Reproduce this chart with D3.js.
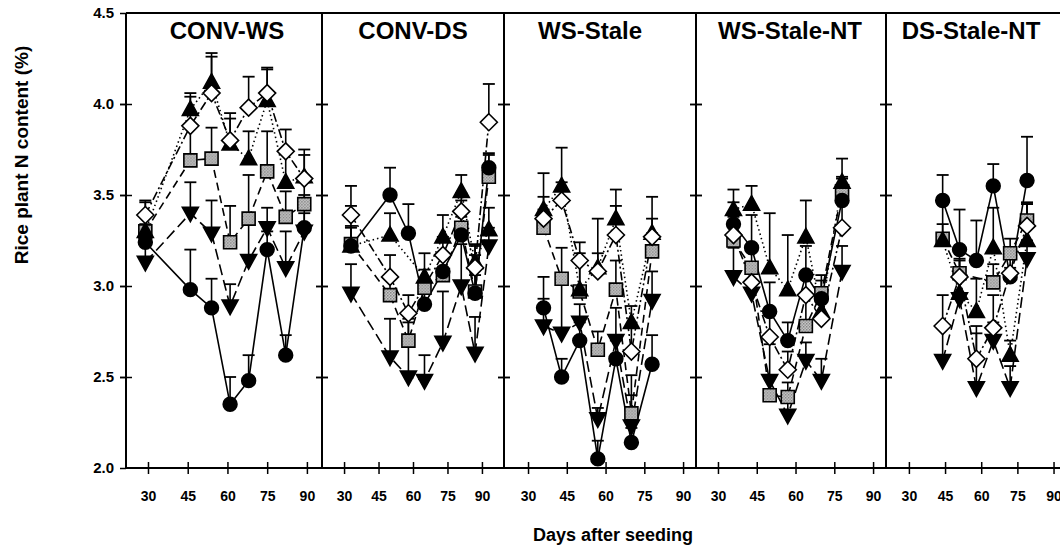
<!DOCTYPE html>
<html>
<head>
<meta charset="utf-8">
<script src="https://cdn.jsdelivr.net/npm/d3@7"></script>
<style>
  body { margin: 0; background: #fff; }
  text { font-family: "Liberation Sans", Arial, sans-serif; font-weight: bold; fill: #000; }
</style>
</head>
<body>
<svg id="chart" width="1060" height="548"></svg>
<script>
// panel names and sampling days (days after seeding)
var panels = ["CONV-WS", "CONV-DS", "WS-Stale", "WS-Stale-NT", "DS-Stale-NT"];
var days = [
  [29, 46, 54, 61, 68, 75, 82, 89],
  [33, 50, 58, 65, 73, 81, 87, 93],
  [36, 43, 50, 57, 64, 70, 78],
  [36, 43, 50, 57, 64, 70, 78],
  [44, 51, 58, 65, 72, 79]
];
var xTicks = [30, 45, 60, 75, 90];
var yTicks = [2.0, 2.5, 3.0, 3.5, 4.0, 4.5];

// N content (%) per treatment, one inner array per panel
var circleN = [
  [3.24, 2.98, 2.88, 2.35, 2.48, 3.20, 2.62, 3.32],
  [3.22, 3.50, 3.29, 2.90, 3.08, 3.28, 2.96, 3.65],
  [2.88, 2.50, 2.70, 2.05, 2.60, 2.14, 2.57],
  [3.34, 3.21, 2.86, 2.70, 3.06, 2.93, 3.47],
  [3.47, 3.20, 3.14, 3.55, 3.05, 3.58]
];
var triUpN = [
  [3.30, 3.97, 4.12, 3.78, 3.70, 4.02, 3.57, 3.60],
  [3.22, 3.28, null, 3.05, 3.27, 3.52, 3.13, 3.31],
  [3.42, 3.55, 2.98, 3.10, 3.37, 2.80, 3.29],
  [3.42, 3.45, 3.10, 2.98, 3.27, 2.86, 3.57],
  [3.25, 2.96, 2.86, 3.21, 2.62, 3.25]
];
var triDownN = [
  [3.13, 3.40, 3.29, 2.89, 3.14, 3.32, 3.10, 3.30],
  [2.96, 2.61, 2.50, 2.48, 2.69, 3.00, 2.63, 3.22],
  [2.78, 2.74, 2.80, 2.27, 2.70, 2.23, 2.92],
  [3.05, 2.96, 2.48, 2.29, 2.59, 2.48, 3.08],
  [2.59, 2.93, 2.44, 2.70, 2.44, 3.15]
];
var squareN = [
  [3.30, 3.69, 3.70, 3.24, 3.37, 3.63, 3.38, 3.45],
  [3.23, 2.95, 2.70, 2.99, 3.06, 3.32, 2.97, 3.60],
  [3.32, 3.04, 2.97, 2.65, 2.98, 2.30, 3.19],
  [3.25, 3.10, 2.40, 2.39, 2.78, 2.96, 3.52],
  [3.26, 3.07, null, 3.02, 3.18, 3.36]
];
var diamondN = [
  [3.39, 3.88, 4.06, 3.80, 3.98, 4.06, 3.74, 3.59],
  [3.39, 3.05, 2.85, null, 3.17, 3.41, 3.10, 3.90],
  [3.37, 3.47, 3.14, 3.08, 3.28, 2.64, 3.27],
  [3.28, 3.02, 2.72, 2.54, 2.95, 2.82, 3.32],
  [2.78, 3.05, 2.60, 2.77, 3.07, 3.33]
];

// upper error bar lengths
var circleErr = [
  [0.10, 0.22, 0.16, 0.15, 0.14, 0.10, 0.11, 0.18],
  [0.10, 0.15, 0.16, 0.12, 0.10, 0.10, 0.10, 0.08],
  [0.17, 0.10, 0.10, 0.10, 0.10, 0.08, 0.16],
  [0.12, 0.18, 0.16, 0.10, 0.16, 0.10, 0.12],
  [0.14, 0.22, 0.22, 0.12, 0.05, 0.24]
];
var triUpErr = [
  [0.16, 0.09, 0.16, 0.17, 0.15, 0.17, 0.17, 0.12],
  [0.22, 0.12, null, 0.13, 0.12, 0.09, 0.10, 0.12],
  [0.20, 0.21, 0.20, 0.27, 0.16, 0.09, 0.20],
  [0.11, 0.10, 0.30, 0.30, 0.20, 0.10, 0.13],
  [0.20, 0.18, 0.18, 0.22, 0.08, 0.20]
];
var triDownErr = [
  [0.10, 0.17, 0.18, 0.12, 0.24, 0.11, 0.20, 0.10],
  [0.16, 0.21, 0.30, 0.14, 0.28, 0.23, 0.20, 0.10],
  [0.15, 0.27, 0.10, 0.06, 0.18, 0.28, 0.16],
  [0.16, 0.14, 0.20, 0.08, 0.10, 0.12, 0.14],
  [0.18, 0.14, 0.30, 0.10, 0.12, 0.10]
];
var squareErr = [
  [0.10, 0.18, 0.17, 0.20, 0.24, 0.22, 0.14, 0.12],
  [0.10, 0.10, 0.12, 0.10, 0.10, 0.15, 0.20, 0.12],
  [0.10, 0.17, 0.16, 0.10, 0.16, 0.10, 0.10],
  [0.10, 0.12, 0.10, 0.08, 0.16, 0.10, 0.08],
  [0.08, 0.12, null, 0.10, 0.08, 0.10]
];
var diamondErr = [
  [0.08, 0.16, 0.20, 0.12, 0.17, 0.14, 0.12, 0.16],
  [0.16, 0.12, 0.10, null, 0.10, 0.10, 0.12, 0.21],
  [0.12, 0.10, 0.10, 0.10, 0.16, 0.14, 0.10],
  [0.10, 0.10, 0.12, 0.10, 0.12, 0.10, 0.18],
  [0.17, 0.10, 0.18, 0.18, 0.10, 0.12]
];

/*
 * layout
 */
var plotTop = 13, plotBottom = 468;
var panelEdges = [126, 322, 504, 696, 886, 1068];
var xDomains = [[21.7, 95.7], [20.4, 99.6], [20.7, 95], [21.5, 95], [20.5, 96]];
var titleX = [227, 413, 590, 790, 971];

var svg = d3.select("#chart");
var defs = svg.append("defs");
var pat = defs.append("pattern").attr("id", "speck").attr("width", 3).attr("height", 3)
  .attr("patternUnits", "userSpaceOnUse");
pat.append("rect").attr("width", 3).attr("height", 3).attr("fill", "#cfcfcf");
pat.append("rect").attr("width", 1.5).attr("height", 1.5).attr("fill", "#7e7e7e");
pat.append("rect").attr("x", 1.5).attr("y", 1.5).attr("width", 1.5).attr("height", 1.5).attr("fill", "#929292");

var y = d3.scaleLinear().domain([2, 4.5]).range([plotBottom, plotTop]);

// series styles: marker path, fill, dash
var series = [
  { vals: triDownN, err: triDownErr, dash: "11,5", shape: "tdown", fill: "#000" },
  { vals: squareN, err: squareErr, dash: "8,5", shape: "square", fill: "url(#speck)" },
  { vals: circleN, err: circleErr, dash: null, shape: "circle", fill: "#000" },
  { vals: triUpN, err: triUpErr, dash: "1.5,3", shape: "tup", fill: "#000" },
  { vals: diamondN, err: diamondErr, dash: "9,3,2,3", shape: "diamond", fill: "#fff" }
];

function shapePath(s) {
  if (s == "circle") return d3.symbol(d3.symbolCircle, 150)();
  if (s == "tup") return "M0,-8.5L8,6L-8,6Z";
  if (s == "tdown") return "M0,8.5L8,-6L-8,-6Z";
  if (s == "square") return "M-6.5,-6.5H6.5V6.5H-6.5Z";
  return "M0,-8.5L8.5,0L0,8.5L-8.5,0Z";
}

var tickLen = 6;

panels.forEach(function(name, p) {
  var x = d3.scaleLinear().domain(xDomains[p]).range([panelEdges[p], panelEdges[p + 1]]);
  var g = svg.append("g");

  // x axis with crossing ticks
  var xa = g.append("g").attr("transform", "translate(0," + plotBottom + ")")
    .call(d3.axisBottom(x).tickValues(xTicks).tickSize(tickLen).tickPadding(17));
  xa.select(".domain").remove();
  xa.selectAll(".tick line").attr("y1", -tickLen).attr("y2", tickLen).attr("stroke-width", 1.5);
  xa.selectAll(".tick text").attr("font-size", 14).style("font-family", null);

  // left and right y ticks for each panel
  [panelEdges[p], panelEdges[p + 1]].forEach(function(px) {
    var ya = g.append("g").attr("transform", "translate(" + px + ",0)")
      .call(d3.axisLeft(y).tickValues(yTicks.slice(1, 5)).tickSize(tickLen).tickFormat(""));
    ya.select(".domain").remove();
    ya.selectAll(".tick line").attr("x1", -tickLen).attr("x2", tickLen).attr("stroke-width", 1.5);
  });

  g.append("text").attr("x", titleX[p]).attr("y", 39).attr("text-anchor", "middle")
    .attr("font-size", 24).text(name);

  var pts = days[p];
  // lines
  series.forEach(function(s) {
    var data = pts.map(function(d, i) { return { d: d, v: s.vals[p][i], e: s.err[p][i] }; })
      .filter(function(d) { return d.v != null; });
    var line = d3.line().x(function(d) { return x(d.d); }).y(function(d) { return y(d.v); });
    g.append("path").datum(data)
      .attr("d", line).attr("fill", "none").attr("stroke", "#000")
      .attr("stroke-width", 1.6).attr("stroke-dasharray", s.dash);
    s.data = data;
  });
  // error bars
  series.forEach(function(s) {
    var eg = g.append("g").selectAll("g").data(s.data).enter().append("g");
    eg.append("line").attr("x1", function(d) { return x(d.d); }).attr("x2", function(d) { return x(d.d); })
      .attr("y1", function(d) { return y(d.v); }).attr("y2", function(d) { return y(d.v + d.e); })
      .attr("stroke", "#000").attr("stroke-width", 1.6);
    eg.append("line").attr("x1", function(d) { return x(d.d) - 6; }).attr("x2", function(d) { return x(d.d) + 6; })
      .attr("y1", function(d) { return y(d.v + d.e); }).attr("y2", function(d) { return y(d.v + d.e); })
      .attr("stroke", "#000").attr("stroke-width", 1.8);
  });
  // markers
  series.forEach(function(s) {
    g.append("g").selectAll("path").data(s.data).enter().append("path")
      .attr("d", shapePath(s.shape))
      .attr("transform", function(d) { return "translate(" + x(d.d) + "," + y(d.v) + ")"; })
      .attr("fill", s.fill).attr("stroke", "#000").attr("stroke-width", 1.6);
  });
});

// frame
svg.append("line").attr("x1", panelEdges[0]).attr("x2", 1060).attr("y1", plotTop).attr("y2", plotTop)
  .attr("stroke", "#000").attr("stroke-width", 2);
svg.append("line").attr("x1", panelEdges[0]).attr("x2", 1060).attr("y1", plotBottom).attr("y2", plotBottom)
  .attr("stroke", "#000").attr("stroke-width", 2);
svg.append("g").selectAll("line").data(panelEdges).enter().append("line")
  .attr("x1", function(d) { return d; }).attr("x2", function(d) { return d; })
  .attr("y1", plotTop).attr("y2", plotBottom).attr("stroke", "#000").attr("stroke-width", 2);

// y tick labels
var yl = svg.append("g").attr("transform", "translate(" + panelEdges[0] + ",0)")
  .call(d3.axisLeft(y).tickValues(yTicks).tickSize(tickLen).tickPadding(6).tickFormat(d3.format(".1f")));
yl.select(".domain").remove();
yl.selectAll(".tick line").attr("stroke-width", 1.5);
yl.selectAll(".tick text").attr("font-size", 15).style("font-family", null);

// axis titles
svg.append("text").attr("transform", "translate(28,155) rotate(-90)").attr("text-anchor", "middle")
  .attr("font-size", 19).text("Rice plant N content (%)");
svg.append("text").attr("x", 613).attr("y", 541).attr("text-anchor", "middle")
  .attr("font-size", 18).text("Days after seeding");
</script>
</body>
</html>
